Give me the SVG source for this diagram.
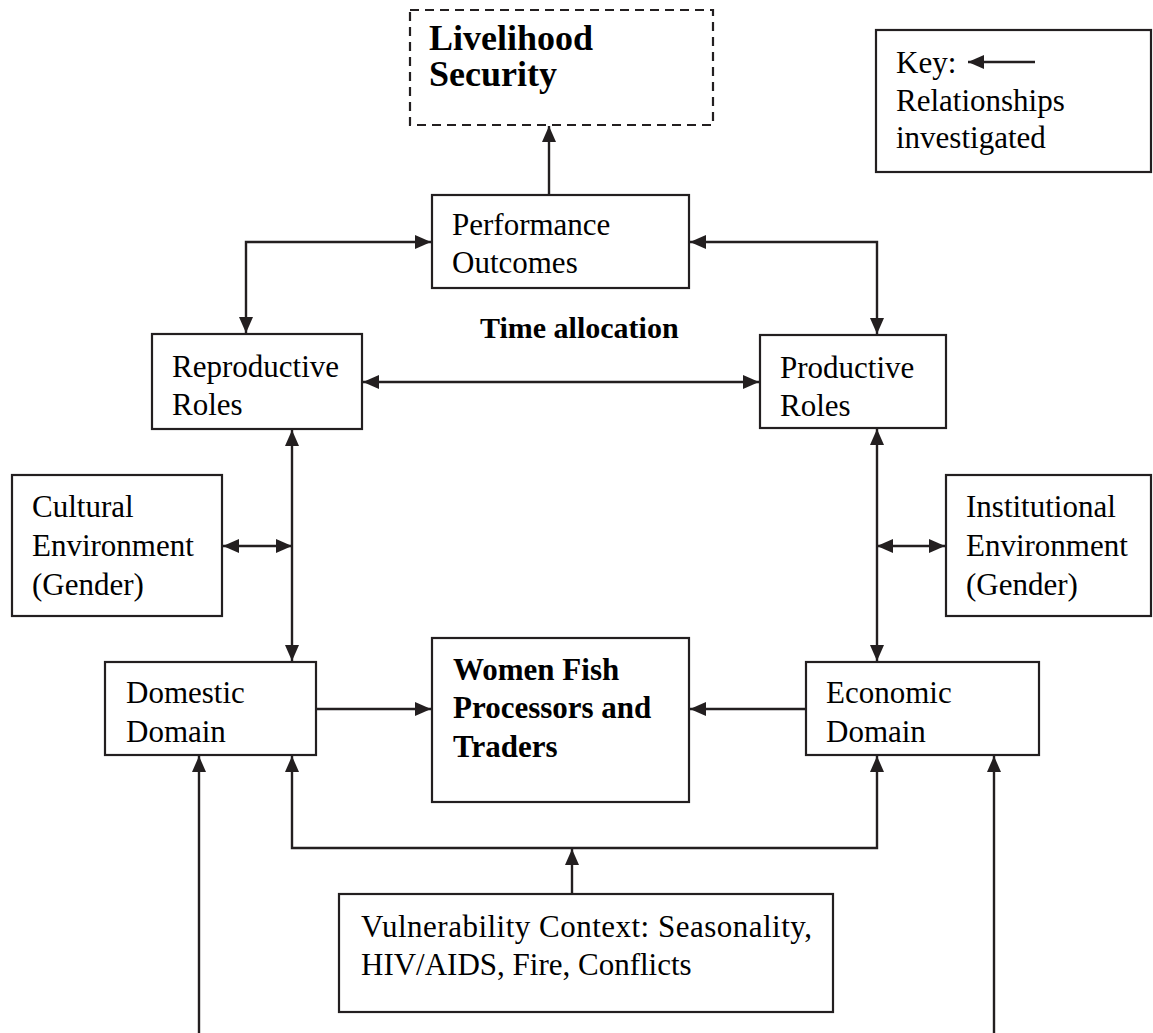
<svg xmlns="http://www.w3.org/2000/svg" width="1153" height="1033" viewBox="0 0 1153 1033">
<style>
.box{fill:#fff;stroke:#231f20;stroke-width:2.2}
.dash{fill:#fff;stroke:#231f20;stroke-width:2.2;stroke-dasharray:9 6}
.t{font-family:"Liberation Serif","Times New Roman",serif;font-size:31px;fill:#000}
.b{font-family:"Liberation Serif","Times New Roman",serif;font-size:31px;font-weight:bold;fill:#000}
.ln{fill:none;stroke:#231f20;stroke-width:2.4}
</style>
<defs>
<marker id="ah" markerUnits="userSpaceOnUse" markerWidth="17" markerHeight="14" refX="16" refY="7" orient="auto-start-reverse">
<path d="M0,0 L16,7 L0,14 z" fill="#231f20"/>
</marker>
</defs>
<rect width="1153" height="1033" fill="#fff"/>

<g id="connectors">
<line class="ln" x1="549" y1="195" x2="549" y2="126" marker-end="url(#ah)"/>
<polyline class="ln" points="246,333 246,242 431,242" marker-start="url(#ah)" marker-end="url(#ah)"/>
<polyline class="ln" points="690,242 877,242 877,334" marker-start="url(#ah)" marker-end="url(#ah)"/>
<line class="ln" x1="363" y1="382" x2="759" y2="382" marker-start="url(#ah)" marker-end="url(#ah)"/>
<line class="ln" x1="292" y1="430" x2="292" y2="661" marker-start="url(#ah)" marker-end="url(#ah)"/>
<line class="ln" x1="877" y1="429" x2="877" y2="661" marker-start="url(#ah)" marker-end="url(#ah)"/>
<line class="ln" x1="223" y1="546" x2="292" y2="546" marker-start="url(#ah)" marker-end="url(#ah)"/>
<line class="ln" x1="877" y1="546" x2="945" y2="546" marker-start="url(#ah)" marker-end="url(#ah)"/>
<line class="ln" x1="317" y1="709" x2="431" y2="709" marker-end="url(#ah)"/>
<line class="ln" x1="806" y1="709" x2="690" y2="709" marker-end="url(#ah)"/>
<polyline class="ln" points="292,756 292,848 877,848 877,756" marker-start="url(#ah)" marker-end="url(#ah)"/>
<line class="ln" x1="572" y1="894" x2="572" y2="849" marker-end="url(#ah)"/>
<line class="ln" x1="199" y1="1033" x2="199" y2="756" marker-end="url(#ah)"/>
<line class="ln" x1="994" y1="1033" x2="994" y2="756" marker-end="url(#ah)"/>
</g>

<g id="livelihood">
<rect class="dash" x="410" y="10" width="303" height="115"/>
<text style="font-family:'Liberation Serif','Times New Roman',serif;font-size:36px;font-weight:bold"><tspan x="429" y="50">Livelihood</tspan><tspan x="429" y="86">Security</tspan></text>
</g>

<g id="key">
<rect class="box" x="876" y="30" width="275" height="142"/>
<text class="t"><tspan x="896" y="73">Key:</tspan><tspan x="896" y="111">Relationships</tspan><tspan x="896" y="148">investigated</tspan></text>
<line class="ln" x1="1035" y1="62" x2="968" y2="62" marker-end="url(#ah)"/>
</g>

<g id="performance">
<rect class="box" x="432" y="195" width="257" height="93"/>
<text class="t"><tspan x="452" y="235">Performance</tspan><tspan x="452" y="273">Outcomes</tspan></text>
</g>

<g id="time-allocation">
<text class="b" style="font-size:30px" x="480" y="338">Time allocation</text>
</g>

<g id="reproductive">
<rect class="box" x="152" y="334" width="210" height="95"/>
<text class="t"><tspan x="172" y="377">Reproductive</tspan><tspan x="172" y="415">Roles</tspan></text>
</g>

<g id="productive">
<rect class="box" x="760" y="335" width="186" height="93"/>
<text class="t"><tspan x="780" y="378">Productive</tspan><tspan x="780" y="416">Roles</tspan></text>
</g>

<g id="cultural">
<rect class="box" x="12" y="475" width="210" height="141"/>
<text class="t"><tspan x="32" y="517">Cultural</tspan><tspan x="32" y="556">Environment</tspan><tspan x="32" y="595">(Gender)</tspan></text>
</g>

<g id="institutional">
<rect class="box" x="946" y="475" width="205" height="141"/>
<text class="t"><tspan x="966" y="517">Institutional</tspan><tspan x="966" y="556">Environment</tspan><tspan x="966" y="595">(Gender)</tspan></text>
</g>

<g id="domestic">
<rect class="box" x="105" y="662" width="211" height="93"/>
<text class="t"><tspan x="126" y="703">Domestic</tspan><tspan x="126" y="742">Domain</tspan></text>
</g>

<g id="women">
<rect class="box" x="432" y="638" width="257" height="164"/>
<text class="b"><tspan x="453" y="680">Women Fish</tspan><tspan x="453" y="718">Processors and</tspan><tspan x="453" y="757">Traders</tspan></text>
</g>

<g id="economic">
<rect class="box" x="806" y="662" width="233" height="93"/>
<text class="t"><tspan x="826" y="703">Economic</tspan><tspan x="826" y="742">Domain</tspan></text>
</g>

<g id="vulnerability">
<rect class="box" x="339" y="894" width="494" height="118"/>
<text class="t"><tspan x="361" y="937" textLength="451" lengthAdjust="spacing">Vulnerability Context: Seasonality,</tspan><tspan x="361" y="975">HIV/AIDS, Fire, Conflicts</tspan></text>
</g>
</svg>
